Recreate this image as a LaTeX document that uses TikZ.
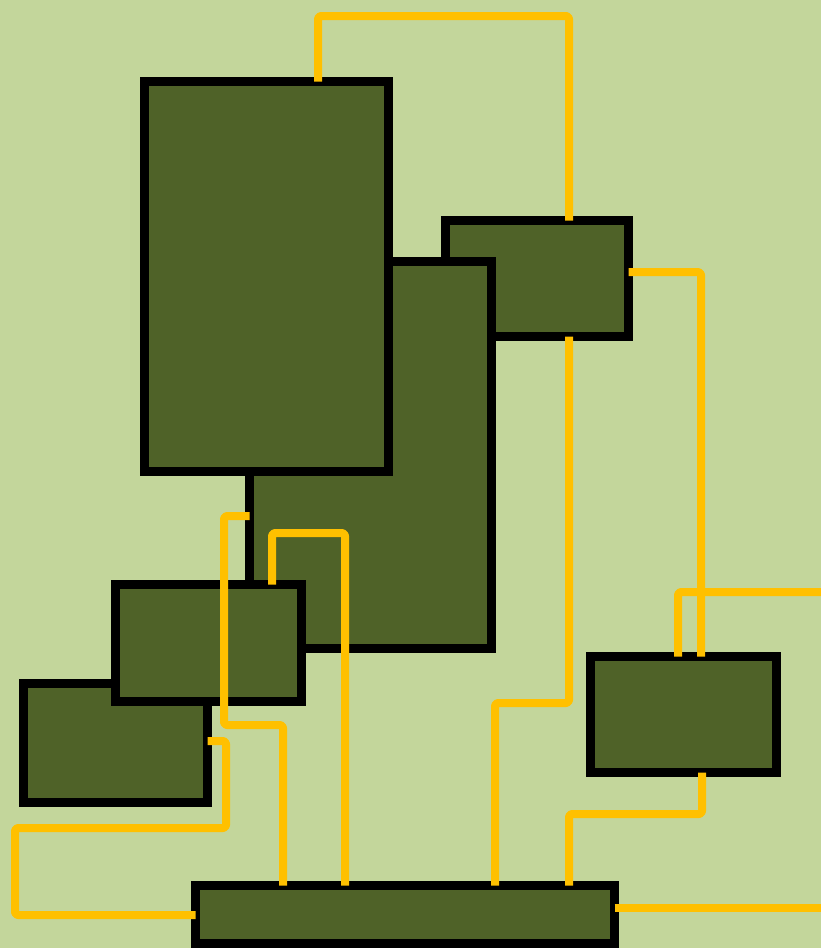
\documentclass[tikz,border=0pt]{standalone}
\definecolor{bgc}{HTML}{C3D69B}
\definecolor{boxc}{HTML}{4F6228}
\definecolor{wirec}{HTML}{FFC000}
\tikzset{
  box/.style={draw=black, fill=boxc, line width=9pt, rectangle, inner sep=0pt, outer sep=0pt, anchor=north west},
  wire/.style={draw=wirec, line width=8pt, line join=round, rounded corners=3pt}
}
\begin{document}
\begin{tikzpicture}[x=1pt,y=-1pt]
\useasboundingbox (0,0) rectangle (821,948);
\fill[bgc] (0,0) rectangle (821,948);
\clip (0,0) rectangle (821,948);
% boxes (drawing order gives the overlaps)
\node[box, minimum width=183pt, minimum height=116pt] (C) at (445.5,220.5) {};
\node[box, minimum width=242pt, minimum height=387pt] (B) at (249.5,261.5) {};
\node[box, minimum width=244pt, minimum height=390pt] (A) at (144.5,81.5) {};
\node[box, minimum width=184pt, minimum height=119pt] (E) at (23.5,683.5) {};
\node[box, minimum width=186pt, minimum height=117pt] (D) at (115.5,584.5) {};
\node[box, minimum width=186pt, minimum height=116pt] (F) at (590.5,656.5) {};
\node[box, minimum width=419pt, minimum height=58pt] (G) at (195.5,885.5) {};
\coordinate (exitA) at (830,592);
\coordinate (exitB) at (830,908);
% connectors
\draw[wire] (318,0 |- A.north) -- (318,16) -- (569,16) -- (569,0 |- C.north);
\draw[wire] (569,0 |- C.south) -- (569,703) -- (495,703) -- (495,0 |- G.north);
\draw[wire] (C.east |- 0,272) -- (701,272) -- (701,0 |- F.north);
\draw[wire] (678,0 |- F.north) -- (678,592) -- (exitA);
\draw[wire] (702,0 |- F.south) -- (702,814) -- (569,814) -- (569,0 |- G.north);
\draw[wire] (G.east |- 0,908) -- (exitB);
\draw[wire] (B.west |- 0,516) -- (224,516) -- (224,725) -- (283,725) -- (283,0 |- G.north);
\draw[wire] (272,0 |- D.north) -- (272,533) -- (345,533) -- (345,0 |- G.north);
\draw[wire] (E.east |- 0,741) -- (226,741) -- (226,828) -- (15,828) -- (15,915) -- (G.west |- 0,915);
\end{tikzpicture}
\end{document}
